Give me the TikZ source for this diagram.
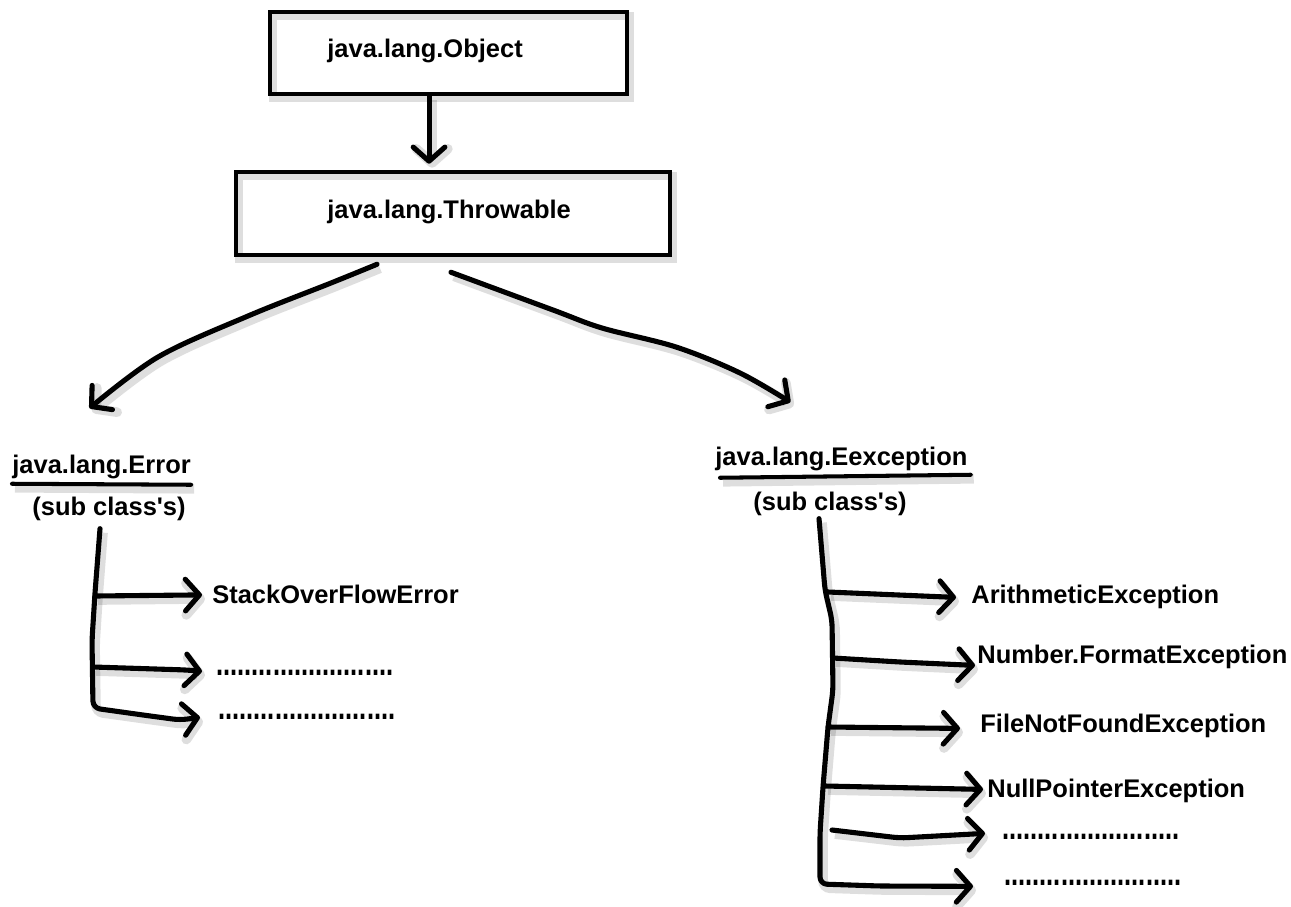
\documentclass[tikz,border=0pt]{standalone}
\usepackage{fontspec}
\setmainfont{Liberation Sans}
\usetikzlibrary{arrows.meta,calc}

\tikzset{
  lbl/.style={anchor=base west, inner sep=0pt, font=\fontsize{14.5}{17}\selectfont\bfseries},
  box/.style={draw, line width=2.6pt, inner sep=0pt,
    preaction={draw=black, opacity=0.13, line width=4.5pt, transform canvas={shift={(3,4)}}}},
  ink/.style={line width=2.9pt, line cap=round, line join=round,
    preaction={draw=black, opacity=0.13, line width=5.5pt, transform canvas={shift={(3,4)}}}},
  conn/.style={ink, -{Straight Barb[length=8pt, width=18pt, round]}},
  uline/.style={ink, line width=2.3pt},
}

% bold label: name, base-west point, text
\newcommand{\lbltext}[3]{\node[lbl] (#1) at (#2) {#3};}
\newcommand{\dotrow}{\scalebox{1}[1.4]{.........................}}

\begin{document}
\begin{tikzpicture}[x=0.02cm, y=-0.02cm]
\useasboundingbox (0,0) rectangle (1291,906);

% root classes
\node[box, minimum width=7.14cm, minimum height=1.64cm] (objbox) at (448.5,53) {};
\node[box, minimum width=8.68cm, minimum height=1.66cm] (thrbox) at (453,213.5) {};
\lbltext{objtext}{327,57}{java.lang.Object}
\lbltext{thrtext}{327,218}{java.lang.Throwable}
\draw[conn] ($(objbox.south -| objtext.center)+(4,0)$) -- ($(thrbox.north -| objtext.center)+(4,-6)$);

% the two branches
\lbltext{err}{12,473}{java.lang.Error}
\draw[uline] ($(err.south west)+(0,5)$) -- ($(err.south east)+(0,6)$);
\lbltext{errsub}{32,515}{(sub class\textquotesingle s)}

\lbltext{exc}{715,465}{java.lang.Eexception}
\draw[uline] ($(exc.south west)+(5,7)$) -- ($(exc.south east)+(3,4)$);
\lbltext{excsub}{753,510}{(sub class\textquotesingle s)}

\coordinate (lstart) at ($(thrbox.south)+(-76,7)$);
\coordinate (lend) at ($(err.north)+(-12,-46)$);
\draw[conn] plot[smooth, tension=0.55] coordinates {(lstart) (331,283) (248,316) (158,357) (lend)};

\coordinate (rstart) at ($(thrbox.south)+(-2,15)$);
\coordinate (rend) at ($(exc.north)+(-51,-44)$);
\draw[conn] plot[smooth, tension=0.55] coordinates {(rstart) (553,310) (602,328) (676,347) (740,373) (rend)};

% Error subclasses
\lbltext{stack}{212,603}{StackOverFlowError}
\lbltext{edots1}{216,675}{\dotrow}
\lbltext{edots2}{218,719}{\dotrow}

\coordinate (etop) at ($(errsub.south)+(-9,8)$);
\draw[conn, rounded corners=4] (etop) -- (95,593) -- (92,640) -- (93,708) -- (143,715) -- (180,720) -- ($(edots2.west)+(-18,1)$);
\draw[conn] (95,596) -- ($(stack.west)+(-10,1)$);
\draw[conn, rounded corners=4] (93,667) -- (187,670) -- ($(edots1.west)+(-14,-1)$);

% Exception subclasses
\lbltext{arith}{971,603}{ArithmeticException}
\lbltext{numfmt}{977,663}{Number.FormatException}
\lbltext{filenf}{980,732}{FileNotFoundException}
\lbltext{nullp}{987,797}{NullPointerException}
\lbltext{xdots1}{1002,839}{\dotrow}
\lbltext{xdots2}{1004,885}{\dotrow}

\coordinate (xtop) at ($(excsub.south)+(-11,3)$);
\draw[conn, rounded corners=4] (xtop) -- (825,590) -- (832,620) -- (833,690) -- (828,727) -- (823,787) -- (820,833) -- (820,884) -- (880,886) -- ($(xdots2.west)+(-31,4)$);
\draw[conn] (828,592) -- ($(arith.west)+(-15,1)$);
\draw[conn, rounded corners=4] (833,658) -- (900,662) -- ($(numfmt.west)+(-2,9)$);
\draw[conn] (828,727) -- ($(filenf.west)+(-20,3)$);
\draw[conn] (825,786) -- ($(nullp.west)+(-4,-1)$);
\draw[conn, rounded corners=4] (832,830) -- (900,838) -- ($(xdots1.west)+(-17,-3)$);
\end{tikzpicture}
\end{document}
